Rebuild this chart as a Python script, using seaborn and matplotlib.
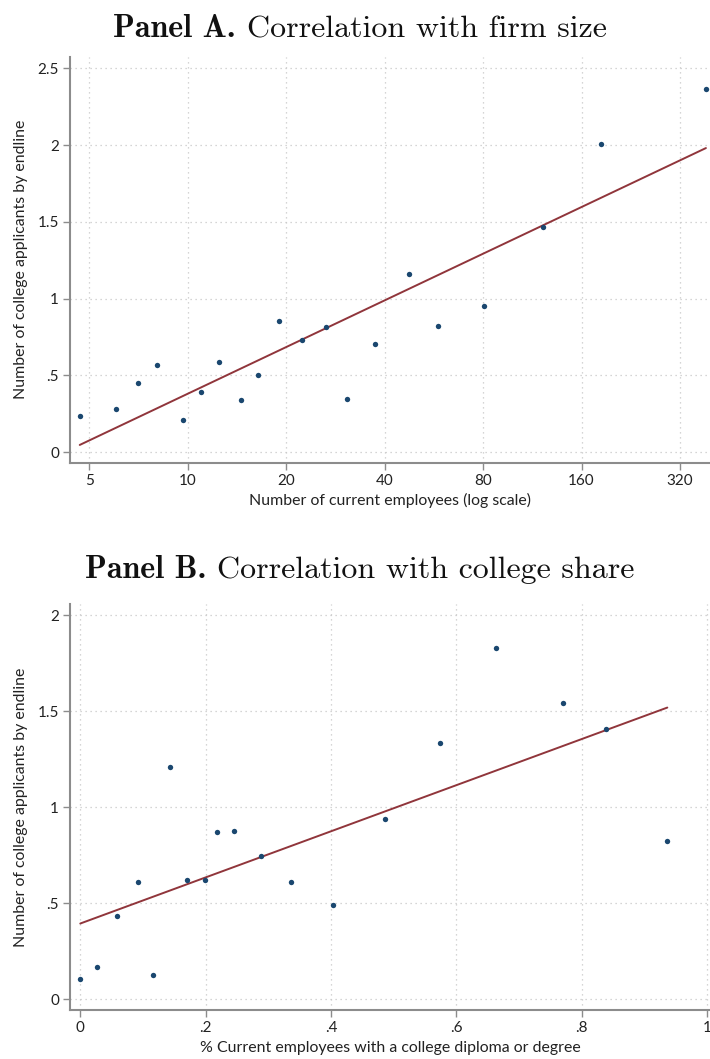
import numpy as np
import pandas as pd
import matplotlib
matplotlib.use("Agg")
import matplotlib.pyplot as plt
import seaborn as sns

# ---- Data ----
emp_size = [4.68, 6.04, 7.06, 8.05, 9.66, 10.99, 12.47, 14.6, 16.37, 18.97,
            22.3, 26.5, 30.7, 37.3, 47.4, 58.2, 80.7, 122.0, 183.8, 383.8]
apps_a = [0.236, 0.280, 0.449, 0.570, 0.208, 0.391, 0.586, 0.343, 0.503, 0.853,
          0.733, 0.816, 0.347, 0.703, 1.159, 0.822, 0.954, 1.467, 2.005, 2.363]

college_share = [0.0, 0.0272, 0.058, 0.0926, 0.1165, 0.1426, 0.170, 0.1985,
                 0.2176, 0.2457, 0.2888, 0.336, 0.4037, 0.4857, 0.5735,
                 0.6638, 0.7707, 0.8393, 0.9366]
apps_b = [0.107, 0.170, 0.434, 0.611, 0.127, 1.208, 0.623, 0.620, 0.871,
          0.878, 0.746, 0.611, 0.491, 0.941, 1.336, 1.831, 1.545, 1.409, 0.824]

xticks_a = [5, 10, 20, 40, 80, 160, 320]
xticklabels_a = ["5", "10", "20", "40", "80", "160", "320"]
yticks_a = [0, 0.5, 1, 1.5, 2, 2.5]
yticklabels_a = ["0", ".5", "1", "1.5", "2", "2.5"]
xticks_b = [0, 0.2, 0.4, 0.6, 0.8, 1]
xticklabels_b = ["0", ".2", ".4", ".6", ".8", "1"]
yticks_b = [0, 0.5, 1, 1.5, 2]
yticklabels_b = ["0", ".5", "1", "1.5", "2"]

title_a_bold, title_a_rest = "Panel A.", "Correlation with firm size"
title_b_bold, title_b_rest = "Panel B.", "Correlation with college share"
ylabel = "Number of college applicants by endline"
xlabel_a = "Number of current employees (log scale)"
xlabel_b = "% Current employees with a college diploma or degree"

df_a = pd.DataFrame({"x": emp_size, "y": apps_a})
df_b = pd.DataFrame({"x": college_share, "y": apps_b})

# ---- Style ----
sns.set_theme(style="white")
plt.rcParams["font.family"] = ["Lato", "DejaVu Sans"]
plt.rcParams["mathtext.fontset"] = "cm"
plt.rcParams["axes.unicode_minus"] = False

POINT = "#1a476f"
LINE = "#90353b"
SPINE = "#8c8c8c"
GRID = "#c8c8c8"
TXT = "#222222"

fig = plt.figure(figsize=(7.10, 10.59), dpi=100)
ax_a = fig.add_axes([70 / 710, 596.3 / 1059, 640 / 710, 406.0 / 1059])
ax_b = fig.add_axes([70 / 710, 49.0 / 1059, 640 / 710, 406.0 / 1059])


def style_axis(ax):
    for s in ["top", "right"]:
        ax.spines[s].set_visible(False)
    for s in ["left", "bottom"]:
        ax.spines[s].set_color(SPINE)
        ax.spines[s].set_linewidth(1.5)
    ax.tick_params(axis="both", direction="out", length=5, width=1.0,
                   color=SPINE, labelsize=11, labelcolor=TXT, pad=3,
                   left=True, bottom=True)
    ax.grid(True, linestyle=(0, (1, 3)), color=GRID, linewidth=0.9)
    ax.set_axisbelow(True)


scat = dict(color=POINT, s=15, linewidths=0, alpha=1, zorder=3)
lin = dict(color=LINE, lw=1.4, zorder=2)

# Panel A
sns.regplot(data=df_a, x="x", y="y", ax=ax_a, logx=True, ci=None,
            scatter_kws=scat, line_kws=lin)
ax_a.set_xscale("log", base=2)
ax_a.set_xlim(4.37, 395)
ax_a.set_ylim(-0.068, 2.575)
ax_a.set_xticks(xticks_a)
ax_a.set_xticklabels(xticklabels_a)
ax_a.xaxis.set_minor_locator(matplotlib.ticker.NullLocator())
ax_a.set_yticks(yticks_a)
ax_a.set_yticklabels(yticklabels_a)
style_axis(ax_a)
ax_a.set_xlabel(xlabel_a, fontsize=11.4, color=TXT, labelpad=4)
ax_a.set_ylabel(ylabel, fontsize=11.4, color=TXT)
ax_a.yaxis.set_label_coords(-0.066, 0.5)

# Panel B
sns.regplot(data=df_b, x="x", y="y", ax=ax_b, ci=None,
            scatter_kws=scat, line_kws=lin)
ax_b.set_xlim(-0.0164, 1.0047)
ax_b.set_ylim(-0.056, 2.059)
ax_b.set_xticks(xticks_b)
ax_b.set_xticklabels(xticklabels_b)
ax_b.set_yticks(yticks_b)
ax_b.set_yticklabels(yticklabels_b)
style_axis(ax_b)
ax_b.set_xlabel(xlabel_b, fontsize=11.4, color=TXT, labelpad=4)
ax_b.set_ylabel(ylabel, fontsize=11.4, color=TXT)
ax_b.yaxis.set_label_coords(-0.066, 0.5)


def panel_title(bold, rest, y_px, size=23):
    renderer = fig.canvas.get_renderer()
    W, H = fig.bbox.width, fig.bbox.height
    y = 1 - y_px / H
    tb = fig.text(0, y, bold, family="cmb10", fontsize=size,
                  color="#111111", ha="left", va="baseline")
    tr = fig.text(0, y, rest, family="cmr10", fontsize=size,
                  color="#111111", ha="left", va="baseline")
    wb = tb.get_window_extent(renderer).width
    wr = tr.get_window_extent(renderer).width
    gap = size * 0.33 * fig.dpi / 72
    total = wb + gap + wr
    x0 = (360 - total / 2) / W
    tb.set_x(x0)
    tr.set_x(x0 + (wb + gap) / W)


panel_title(title_a_bold, title_a_rest, 37)
panel_title(title_b_bold, title_b_rest, 578)

fig.savefig("out.png", dpi=100)
